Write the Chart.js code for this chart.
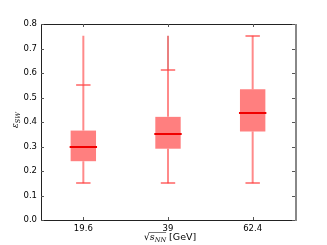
<!DOCTYPE html>
<html>
<head>
<meta charset="utf-8">
<script src="https://cdn.jsdelivr.net/npm/chart.js@4/dist/chart.umd.min.js"></script>
<style>
  html, body { margin: 0; padding: 0; background: #fff; }
  canvas { display: block; }
</style>
</head>
<body>
<canvas id="chart" width="327" height="245"></canvas>
<script>
// energies (x categories)
const categories = ['19.6', '39', '62.4'];

// box statistics per energy
const whiskerLow  = [0.15, 0.15, 0.15];
const q1          = [0.240, 0.291, 0.361];
const median      = [0.296, 0.350, 0.435];
const q3          = [0.365, 0.421, 0.534];
const whiskerHigh = [0.553, 0.613, 0.752];
const maxValue    = [0.752, 0.752, 0.752];

const yTicks = [0, 0.1, 0.2, 0.3, 0.4, 0.5, 0.6, 0.7, 0.8];

const FONT = 'DejaVu Sans, sans-serif';
const LIGHT = 'rgba(255, 60, 60, 0.6)';
const BOX = 'rgba(255, 0, 0, 0.5)';

// whiskers, caps, medians, frame, inside ticks, axis titles
const boxPlugin = {
    id: 'boxExtras',
    afterDatasetsDraw(chart) {
        const { ctx, scales: { x, y }, chartArea: a } = chart;
        const band = x.getPixelForValue(1) - x.getPixelForValue(0);
        const boxHalf = band * 0.3 / 2;
        const capHalf = band * 0.085;
        ctx.save();
        categories.forEach((c, i) => {
            const px = x.getPixelForValue(i);
            ctx.lineCap = 'butt';
            // whisker body
            ctx.strokeStyle = LIGHT;
            ctx.lineWidth = 2;
            ctx.beginPath();
            ctx.moveTo(px, y.getPixelForValue(whiskerLow[i]));
            ctx.lineTo(px, y.getPixelForValue(q1[i]));
            ctx.moveTo(px, y.getPixelForValue(q3[i]));
            ctx.lineTo(px, y.getPixelForValue(whiskerHigh[i]));
            ctx.stroke();
            // tail above the cap
            if (maxValue[i] > whiskerHigh[i] + 0.005) {
                ctx.beginPath();
                if (i === 1) {
                    ctx.strokeStyle = '#d40000';
                    ctx.lineWidth = 1;
                }
                ctx.moveTo(px, y.getPixelForValue(whiskerHigh[i]));
                ctx.lineTo(px, y.getPixelForValue(maxValue[i]));
                ctx.stroke();
            }
            // caps
            ctx.strokeStyle = LIGHT;
            ctx.lineWidth = 2;
            ctx.beginPath();
            [whiskerLow[i], whiskerHigh[i]].forEach((v) => {
                const py = Math.round(y.getPixelForValue(v));
                ctx.moveTo(px - capHalf, py);
                ctx.lineTo(px + capHalf, py);
            });
            ctx.stroke();
            // median
            ctx.strokeStyle = '#f00000';
            ctx.lineWidth = 2;
            ctx.beginPath();
            const my = Math.round(y.getPixelForValue(median[i]));
            ctx.moveTo(px - boxHalf - 1, my);
            ctx.lineTo(px + boxHalf + 1, my);
            ctx.stroke();
        });

        // frame
        ctx.lineWidth = 1;
        ctx.strokeStyle = '#222';
        ctx.beginPath();
        ctx.moveTo(a.left + 0.5, a.bottom + 0.5);
        ctx.lineTo(a.left + 0.5, a.top + 0.5);
        ctx.lineTo(a.right, a.top + 0.5);
        ctx.moveTo(a.left, a.bottom + 0.5);
        ctx.lineTo(a.right, a.bottom + 0.5);
        ctx.stroke();
        ctx.strokeStyle = '#888';
        ctx.lineWidth = 2;
        ctx.beginPath();
        ctx.moveTo(a.right + 1, a.top);
        ctx.lineTo(a.right + 1, a.bottom + 1);
        ctx.stroke();

        // inside ticks
        ctx.strokeStyle = '#555';
        ctx.lineWidth = 1;
        ctx.beginPath();
        yTicks.forEach((v) => {
            const py = Math.round(y.getPixelForValue(v)) + 0.5;
            ctx.moveTo(a.left, py);
            ctx.lineTo(a.left + 3, py);
            ctx.moveTo(a.right, py);
            ctx.lineTo(a.right - 3, py);
        });
        categories.forEach((c, i) => {
            const px = Math.round(x.getPixelForValue(i)) + 0.5;
            ctx.moveTo(px, a.top);
            ctx.lineTo(px, a.top + 3);
            ctx.moveTo(px, a.bottom);
            ctx.lineTo(px, a.bottom - 3);
        });
        ctx.stroke();

        // y title: epsilon_SW, rotated
        ctx.fillStyle = '#000';
        ctx.save();
        ctx.translate(18, (a.top + a.bottom) / 2 - 2);
        ctx.rotate(-Math.PI / 2);
        ctx.textBaseline = 'alphabetic';
        ctx.font = 'italic 9px DejaVu Serif, serif';
        const ew = ctx.measureText('ε').width;
        ctx.font = 'italic 6.5px DejaVu Serif, serif';
        const sw = ctx.measureText('SW').width;
        const tx = -(ew + sw) / 2;
        ctx.font = 'italic 9px DejaVu Serif, serif';
        ctx.fillText('ε', tx, 0);
        ctx.font = 'italic 6.5px DejaVu Serif, serif';
        ctx.fillText('SW', tx + ew, 2);
        ctx.restore();

        // x title: sqrt(s_NN) [GeV]
        const parts = [
            { t: '√', f: '9.5px DejaVu Sans, sans-serif', dy: 0 },
            { t: 's', f: 'italic 9.5px DejaVu Serif, serif', dy: 0 },
            { t: 'NN', f: 'italic 6.5px DejaVu Serif, serif', dy: 2 },
            { t: ' [GeV]', f: '9.5px ' + FONT, dy: 0 },
        ];
        let total = 0;
        parts.forEach((p) => { ctx.font = p.f; p.w = ctx.measureText(p.t).width; total += p.w; });
        const start = (a.left + a.right) / 2 - total / 2 + 2;
        let cx = start;
        const base = 240;
        parts.forEach((p) => {
            ctx.font = p.f;
            ctx.fillText(p.t, cx, base + p.dy);
            cx += p.w;
        });
        // overbar of the root
        ctx.lineWidth = 0.8;
        ctx.beginPath();
        ctx.moveTo(start + parts[0].w - 1, 232.5);
        ctx.lineTo(start + parts[0].w + parts[1].w + parts[2].w, 232.5);
        ctx.stroke();
        ctx.restore();
    },
};

const boxes = q1.map((lo, i) => [lo, q3[i]]);

new Chart(document.getElementById('chart'), {
    type: 'bar',
    data: {
        labels: categories,
        datasets: [{
            label: 'box',
            data: boxes,
            backgroundColor: BOX,
            borderWidth: 0,
            borderSkipped: false,
            categoryPercentage: 1,
            barPercentage: 0.3,
        }],
    },
    options: {
        responsive: false,
        animation: false,
        events: [],
        layout: { padding: { top: 24, right: 32, left: 0, bottom: 0 } },
        plugins: { legend: { display: false }, tooltip: { enabled: false } },
        scales: {
            x: {
                offset: true,
                grid: { display: false, drawTicks: false },
                border: { display: false },
                ticks: { color: '#000', font: { family: FONT, size: 8.5 }, padding: 4, maxRotation: 0 },
                afterFit: (s) => { s.height = 25; },
            },
            y: {
                min: 0,
                max: 0.8,
                grid: { display: false, drawTicks: false },
                border: { display: false },
                afterBuildTicks: (s) => { s.ticks = yTicks.map((v) => ({ value: v })); },
                ticks: {
                    color: '#000',
                    font: { family: FONT, size: 8.5 },
                    padding: 4,
                    callback: (v) => Number(v).toFixed(1),
                },
                afterFit: (s) => { s.width = 41; },
            },
        },
    },
    plugins: [boxPlugin],
});
</script>
</body>
</html>
